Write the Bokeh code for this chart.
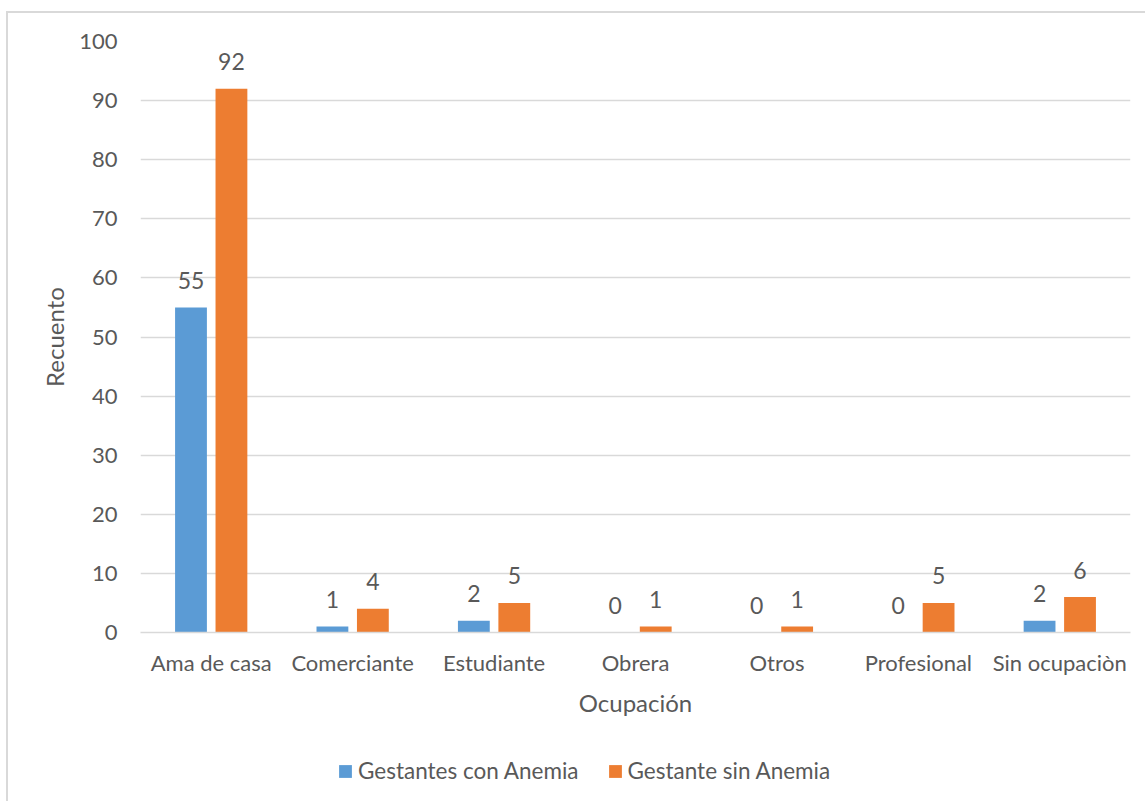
from bokeh.plotting import figure
from bokeh.layouts import column
from bokeh.models import (ColumnDataSource, FactorRange, Range1d, FixedTicker,
                          Legend, LegendItem)
from bokeh.transform import dodge
from bokeh.embed import file_html
from bokeh.resources import INLINE

# Occupation counts for pregnant women, with and without anaemia
categories = ["Ama de casa", "Comerciante", "Estudiante", "Obrera",
              "Otros", "Profesional", "Sin ocupaciòn"]
con_anemia = [55, 1, 2, 0, 0, 0, 2]
sin_anemia = [92, 4, 5, 1, 1, 5, 6]
series_names = ["Gestantes con Anemia", "Gestante sin Anemia"]
y_ticks = [0, 10, 20, 30, 40, 50, 60, 70, 80, 90, 100]

BLUE = "#5B9BD5"
ORANGE = "#ED7D31"
GRID = "#D9D9D9"
TEXT = "#595959"
FONT = "Lato"
EDGE = "2px solid #D9D9D9"

source = ColumnDataSource(dict(
    cat=categories,
    con=con_anemia,
    sin=sin_anemia,
    con_lbl=[str(v) for v in con_anemia],
    sin_lbl=[str(v) for v in sin_anemia],
))

p = figure(
    x_range=FactorRange(*categories),
    y_range=Range1d(0, 100),
    width=1139, height=722,
    output_backend="svg", toolbar_location=None,
    min_border_left=132, min_border_right=17,
    min_border_top=28, min_border_bottom=103,
)
p.margin = (11, 0, 0, 6)
p.styles = {"border-left": EDGE, "border-top": EDGE}
p.outline_line_color = None
p.background_fill_color = "white"
p.border_fill_color = "white"

off = 0.143
bw = 0.225
p.vbar(x=dodge("cat", -off, range=p.x_range), top="con", width=bw,
       source=source, fill_color=BLUE, line_color=None)
p.vbar(x=dodge("cat", off, range=p.x_range), top="sin", width=bw,
       source=source, fill_color=ORANGE, line_color=None)

# value labels above each bar
for key, d in (("con", -off), ("sin", off)):
    p.text(x=dodge("cat", d, range=p.x_range), y=key, text=key + "_lbl",
           source=source, text_align="center", text_baseline="alphabetic",
           y_offset=-27, text_font_size="23px", text_color=TEXT,
           text_font={"value": FONT})

# grid
p.xgrid.grid_line_color = None
p.ygrid.grid_line_color = GRID
p.ygrid.grid_line_width = 1.3
p.yaxis.ticker = FixedTicker(ticks=y_ticks)

# axes
for ax in (p.xaxis[0], p.yaxis[0]):
    ax.major_tick_line_color = None
    ax.minor_tick_line_color = None
    ax.major_tick_out = 0
    ax.major_tick_in = 0
    ax.major_label_text_font = FONT
    ax.major_label_text_font_size = "22px"
    ax.major_label_text_color = TEXT
    ax.axis_label_text_font = FONT
    ax.axis_label_text_font_size = "24px"
    ax.axis_label_text_font_style = "normal"
    ax.axis_label_text_color = TEXT

p.xaxis.axis_line_color = GRID
p.xaxis.axis_line_width = 1.3
p.xaxis.major_label_standoff = 16
p.xaxis.axis_label = "Ocupación"
p.xaxis.axis_label_standoff = 9

p.yaxis.axis_line_color = None
p.yaxis.major_label_standoff = 23
p.yaxis.axis_label = "Recuento"
p.yaxis.axis_label_standoff = 7

# legend strip underneath the chart; its swatch renderers stay hidden
leg = figure(width=1139, height=68, output_backend="svg", toolbar_location=None,
             x_range=FactorRange(*categories), y_range=Range1d(0, 1),
             x_axis_location=None, y_axis_location=None,
             min_border_left=0, min_border_right=0,
             min_border_top=0, min_border_bottom=0)
leg.margin = (0, 0, 0, 6)
leg.styles = {"border-left": EDGE}
leg.outline_line_color = None
leg.xgrid.grid_line_color = None
leg.ygrid.grid_line_color = None
k1 = leg.vbar(x="cat", top="con", width=bw, source=source,
              fill_color=BLUE, line_color=None, visible=False)
k2 = leg.vbar(x="cat", top="sin", width=bw, source=source,
              fill_color=ORANGE, line_color=None, visible=False)

legend = Legend(
    items=[LegendItem(label=series_names[0], renderers=[k1]),
           LegendItem(label=series_names[1], renderers=[k2])],
    orientation="horizontal",
    location=(197, 17),
    padding=0, margin=0, spacing=28,
    glyph_width=16, glyph_height=16, label_standoff=5,
    label_text_font=FONT, label_text_font_size="22.5px",
    label_text_color=TEXT,
    inactive_fill_alpha=0,
    border_line_color=None, background_fill_alpha=0,
)
leg.add_layout(legend, "center")

open("out.html", "w").write(file_html(column(p, leg, spacing=0), INLINE))
